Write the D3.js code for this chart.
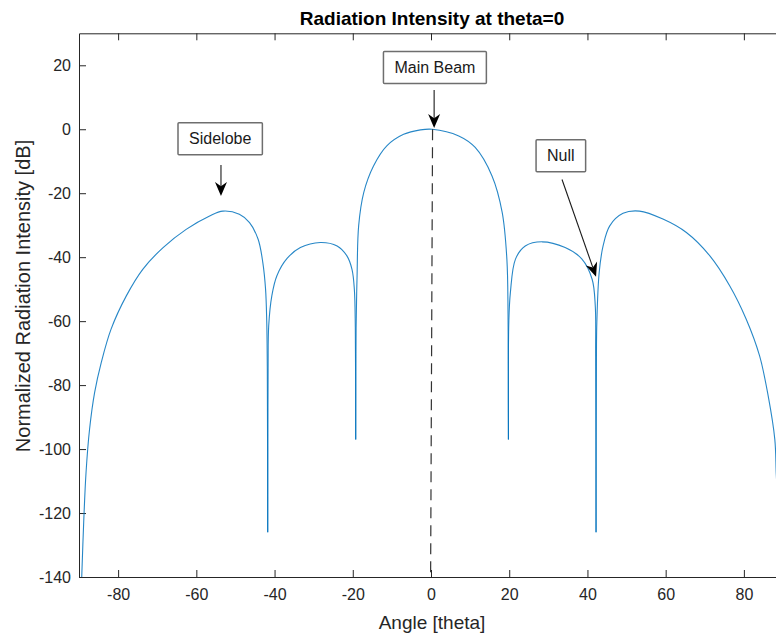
<!DOCTYPE html>
<html>
<head>
<meta charset="utf-8">
<script src="https://cdn.jsdelivr.net/npm/d3@7"></script>
<style>
    body { margin: 0; background: #fff; }
    svg { display: block; font-family: "Liberation Sans", Arial, sans-serif; }
</style>
</head>
<body>
<svg id="chart" width="776" height="635"></svg>
<script>
"use strict";

// [angle (deg), normalized intensity (dB)], one array per lobe
const outerLobeLeft = [
    [-89.3, -140], [-88.8, -122.9], [-88.2, -107.3], [-87.3, -93.8],
    [-86.0, -82.3], [-84.3, -72.9], [-81.8, -62.5], [-77.9, -52.1],
    [-73.7, -43.8], [-68.5, -37.0], [-62.6, -31.3], [-56.6, -27.1],
    [-53.2, -25.6], [-49.0, -26.6], [-46.4, -29.2], [-44.2, -34.4],
    [-43.0, -41.7], [-42.3, -50.0], [-42.0, -60.0], [-41.85, -75.0]
];
const innerLobeLeft = [
    [-41.65, -75.0], [-41.5, -61.5], [-40.7, -52.1], [-39.4, -45.8],
    [-36.8, -40.4], [-33.4, -37.0], [-28.3, -35.4], [-24.0, -36.5],
    [-21.5, -39.6], [-20.2, -43.8], [-19.6, -50.0], [-19.35, -62.0]
];
const mainLobe = [
    [-19.15, -62.0], [-18.9, -45.8], [-18.5, -30.2], [-17.2, -19.8],
    [-14.7, -11.5], [-11.3, -5.2], [-7.0, -1.6], [-2.7, -0.2],
    [0.3, 0], [7.1, -2.1], [11.3, -5.7], [15.6, -14.6],
    [18.2, -26.0], [19.4, -40.6], [19.7, -58.0]
];
const innerLobeRight = [
    [19.9, -60.0], [20.3, -51.0], [21.6, -40.6], [24.1, -36.5],
    [28.4, -35.2], [34.3, -37.0], [38.6, -40.6], [41.2, -46.9],
    [42.0, -55.2], [42.1, -70.0]
];
const outerLobeRight = [
    [42.3, -70.0], [42.4, -60.4], [43.0, -44.8], [44.0, -36.5],
    [45.7, -30.2], [49.1, -26.3], [53.3, -25.6], [59.3, -28.1],
    [65.3, -32.3], [71.3, -39.6], [76.4, -49.0], [80.6, -59.4],
    [84.0, -70.8], [86.2, -83.3], [87.9, -96.9], [88.3, -108.3],
    [89.0, -125.0], [89.5, -140]
];
// bottoms of the four nulls, shared by the neighbouring lobes
const nulls = [[-41.75, -126], [-19.25, -97], [19.8, -97], [42.2, -126]];

const xTicks = [-80, -60, -40, -20, 0, 20, 40, 60, 80];
const yTicks = [-140, -120, -100, -80, -60, -40, -20, 0, 20];

// dashed marker under the main beam
const beamLine = [[0.4, 0], [-0.1, -140]];

// text centre, arrow tail and arrow head, all in data units
const annotations = [
    { label: "Main Beam", at: [1.0, 19.3], from: [0.8, 12.3], to: [0.8, 0.4] },
    { label: "Sidelobe", at: [-53.9, -3.0], from: [-53.7, -11.2], to: [-53.7, -20.9] },
    { label: "Null", at: [33.2, -8.3], from: [33.5, -15.7], to: [42.2, -46.1] }
];

const axisColor = "#262626";
const tickFont = "16px";

const svg = d3.select("#chart");

const x = d3.scaleLinear().domain([-90, 90]).range([79, 783]);
const y = d3.scaleLinear().domain([-140, 30]).range([577, 33.3]);

// each lobe runs from one null bottom to the next
const lobes = [
    outerLobeLeft.concat([nulls[0]]),
    [nulls[0]].concat(innerLobeLeft, [nulls[1]]),
    [nulls[1]].concat(mainLobe, [nulls[2]]),
    [nulls[2]].concat(innerLobeRight, [nulls[3]]),
    [nulls[3]].concat(outerLobeRight)
];

svg.append("defs")
    .append("clipPath")
    .attr("id", "plotArea")
    .append("rect")
    .attr("x", x(-90))
    .attr("y", y(30))
    .attr("width", x(90) - x(-90))
    .attr("height", y(-140) - y(30));

/**
 * Styles an axis group the MATLAB way: thin dark lines, ticks inside the box.
 */
const styleAxis = (g) => {
    g.selectAll("path, line").attr("stroke", axisColor).attr("stroke-width", 1);
    g.selectAll("text")
        .attr("fill", axisColor)
        .style("font-size", tickFont)
        .style("font-family", "'Liberation Sans', Arial, sans-serif");
};

const plainNumber = (d) => String(d);

svg.append("g")
    .attr("transform", `translate(0,${y(-140)})`)
    .call(d3.axisBottom(x).tickValues(xTicks).tickFormat(plainNumber)
        .tickSizeInner(-7).tickSizeOuter(0).tickPadding(12))
    .call(styleAxis);

svg.append("g")
    .attr("transform", `translate(0,${y(30)})`)
    .call(d3.axisTop(x).tickValues(xTicks).tickSizeInner(-7)
        .tickSizeOuter(0).tickFormat(""))
    .call(styleAxis);

svg.append("g")
    .attr("transform", `translate(${x(-90)},0)`)
    .call(d3.axisLeft(y).tickValues(yTicks).tickFormat(plainNumber)
        .tickSizeInner(-7).tickSizeOuter(0).tickPadding(8))
    .call(styleAxis);

svg.append("g")
    .attr("transform", `translate(${x(90)},0)`)
    .call(d3.axisRight(y).tickValues(yTicks).tickSizeInner(-7)
        .tickSizeOuter(0).tickFormat(""))
    .call(styleAxis);

// radiation pattern
const lobeLine = d3.line()
    .x((d) => x(d[0]))
    .y((d) => y(d[1]))
    .curve(d3.curveCatmullRom.alpha(0.5));

svg.append("g")
    .attr("clip-path", "url(#plotArea)")
    .selectAll("path")
    .data(lobes)
    .join("path")
    .attr("fill", "none")
    .attr("stroke", "#0072BD")
    .attr("stroke-opacity", 0.85)
    .attr("stroke-width", 1.1)
    .attr("stroke-linejoin", "round")
    .attr("d", lobeLine);

svg.append("line")
    .attr("x1", x(beamLine[0][0]))
    .attr("y1", y(beamLine[0][1]))
    .attr("x2", x(beamLine[1][0]))
    .attr("y2", y(beamLine[1][1]))
    .attr("stroke", "#333")
    .attr("stroke-width", 1.2)
    .attr("stroke-dasharray", "11,7");

/**
 * Arrow with a notched, filled head (MATLAB "vback2" look).
 */
const drawArrow = (g, p0, p1) => {
    const headLen = 14;
    const headWidth = 12;
    const dx = p1[0] - p0[0];
    const dy = p1[1] - p0[1];
    const len = Math.hypot(dx, dy);
    const ux = dx / len;
    const uy = dy / len;
    const back = [p1[0] - ux * headLen, p1[1] - uy * headLen];
    const notch = [p1[0] - ux * headLen * 0.7, p1[1] - uy * headLen * 0.7];
    const nx = -uy * headWidth / 2;
    const ny = ux * headWidth / 2;
    g.append("line")
        .attr("x1", p0[0]).attr("y1", p0[1])
        .attr("x2", notch[0]).attr("y2", notch[1])
        .attr("stroke", "#1a1a1a")
        .attr("stroke-width", 1.1);
    g.append("path")
        .attr("d", `M${p1[0]},${p1[1]}L${back[0] + nx},${back[1] + ny}` +
            `L${notch[0]},${notch[1]}L${back[0] - nx},${back[1] - ny}Z`)
        .attr("fill", "#000");
};

annotations.forEach((a) => {
    const g = svg.append("g");
    const text = g.append("text")
        .attr("x", x(a.at[0]))
        .attr("y", y(a.at[1]))
        .attr("dy", "0.35em")
        .attr("text-anchor", "middle")
        .attr("fill", "#1a1a1a")
        .style("font-size", tickFont)
        .text(a.label);
    const w = text.node().getBBox().width + 22;
    const h = 32;
    g.insert("rect", "text")
        .attr("x", x(a.at[0]) - w / 2)
        .attr("y", y(a.at[1]) - h / 2)
        .attr("width", w)
        .attr("height", h)
        .attr("rx", 1)
        .attr("fill", "#fff")
        .attr("stroke", "#6e6e6e")
        .attr("stroke-width", 1.5);
    drawArrow(g, [x(a.from[0]), y(a.from[1])], [x(a.to[0]), y(a.to[1])]);
});

svg.append("text")
    .attr("x", 432)
    .attr("y", 25)
    .attr("text-anchor", "middle")
    .attr("font-weight", "bold")
    .attr("fill", "#000")
    .style("font-size", "19px")
    .text("Radiation Intensity at theta=0");

svg.append("text")
    .attr("x", 432)
    .attr("y", 629)
    .attr("text-anchor", "middle")
    .attr("fill", axisColor)
    .style("font-size", "19px")
    .text("Angle [theta]");

svg.append("text")
    .attr("transform", "translate(30,296) rotate(-90)")
    .attr("text-anchor", "middle")
    .attr("fill", axisColor)
    .style("font-size", "20px")
    .text("Normalized Radiation Intensity [dB]");
</script>
</body>
</html>
